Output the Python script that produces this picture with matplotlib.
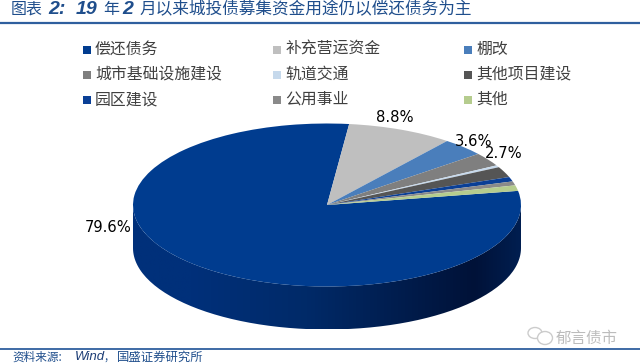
import matplotlib
matplotlib.use('Agg')
import matplotlib.pyplot as plt
import numpy as np
from matplotlib.colors import LinearSegmentedColormap
from matplotlib.path import Path
from matplotlib.patches import Ellipse, PathPatch

plt.rcParams['font.family'] = ['Noto Sans CJK SC', 'DejaVu Sans']

categories = ['偿还债务', '补充营运资金', '棚改', '城市基础设施建设', '轨道交通',
              '其他项目建设', '园区建设', '公用事业', '其他']
values = [79.6, 8.8, 3.6, 2.7, 0.4, 2.1, 0.9, 0.8, 1.1]
colors = ['#003c8f', '#bfbfbf', '#4a7ebb', '#7f7f7f', '#c6d9ec',
          '#555555', '#0a3f96', '#8a8a8a', '#b5cc8e']
shown_labels = {0: (108, 227), 1: (395, 118), 2: (474, 142), 3: (504, 154)}

BLUE = '#2f5f9e'
W, H = 640, 364
cx, cy, rx, ry, depth = 327, 205, 194, 81.5, 43

fig = plt.figure(figsize=(6.4, 3.64), dpi=100)

# pie axes: x -1..1 spans the ellipse, y runs down far enough to hold the side
top, bottom = cy - ry, cy + ry + depth
ax = fig.add_axes([(cx - rx) / W, 1 - bottom / H, 2 * rx / W, (bottom - top) / H])
wedges, _ = ax.pie(values, colors=colors, startangle=10, counterclock=False, radius=1,
                   wedgeprops={'linewidth': 0})
d = depth / ry
ax.set_aspect('auto')
ax.axis('off')

# side of the disc, gradient clipped to the swept ellipse
side_cmap = LinearSegmentedColormap.from_list('side', [
    (0, '#00307a'), (0.15, '#00307a'), (0.45, '#002a68'), (0.88, '#001238'),
    (1, '#001e50')])
im = ax.imshow(np.linspace(0, 1, 256).reshape(1, -1), cmap=side_cmap, aspect='auto',
               extent=(-1, 1, -1 - d, 1), zorder=0)
theta = np.linspace(np.pi, 2 * np.pi, 120)
outline = np.vstack([
    np.column_stack([np.cos(theta), np.sin(theta) - d]),
    np.column_stack([np.cos(theta[::-1]), np.sin(theta[::-1])]),
])
im.set_clip_path(PathPatch(Path(outline), transform=ax.transData))
ax.set_xlim(-1, 1)
ax.set_ylim(-1 - d, 1)

# overlay in pixel coordinates for text, rules and legend
ov = fig.add_axes([0, 0, 1, 1], facecolor='none')
ov.set_xlim(0, W)
ov.set_ylim(H, 0)
ov.axis('off')

ov.plot([0, W], [22.5, 22.5], color=BLUE, lw=1.6, solid_capstyle='butt')
ov.plot([0, W], [349, 349], color=BLUE, lw=1.3, solid_capstyle='butt')

title_color = '#1f4e8c'
latin = {'color': title_color, 'va': 'center', 'weight': 'bold', 'style': 'italic',
         'family': 'Liberation Sans', 'fontsize': 14}
ov.text(11, 9.5, '图表', fontsize=11.5, color=title_color, va='center')
ov.text(48, 9.5, '2:', **latin)
ov.text(76, 9.5, '19', **latin)
ov.text(103, 9.5, '年', fontsize=11.5, color=title_color, va='center')
ov.text(122, 9.5, '2', **latin)
ov.text(139, 9.5, '月以来城投债募集资金用途仍以偿还债务为主', fontsize=12,
        color=title_color, va='center')

for i, (name, color) in enumerate(zip(categories, colors)):
    col, row = i % 3, i // 3
    x = 86.5 + col * 190.5
    y = 49.5 + row * 25
    ov.scatter([x], [y], marker='s', s=33, color=color, linewidths=0)
    ov.text(x + 8.5, y, name, fontsize=11.4, color='#404040', va='center')

for i, (x, y) in shown_labels.items():
    ov.text(x, y, f'{values[i]}%', fontsize=10.6, color='black', ha='center', va='center',
            family='DejaVu Sans')

ov.text(12, 357, '资料来源:', fontsize=8.4, color=title_color, va='center')
ov.text(75, 357, 'Wind', fontsize=9.5, color='#1f3f77', va='center', style='italic',
        family='Liberation Sans')
ov.text(104, 357, ',', fontsize=8.4, color=title_color, va='center')
ov.text(117, 357, '国盛证券研究所', fontsize=8.9, color=title_color, va='center')

# watermark
ov.add_patch(Ellipse((535, 333), 14, 11, fill=False, ec='#cccccc', lw=1))
ov.add_patch(Ellipse((545, 338), 15, 13, fill=True, fc='white', ec='#cccccc', lw=1))
ov.text(556, 338, '郁言债市', fontsize=11.2, color='#bcbcbc', va='center')

fig.savefig('out.png', dpi=100)
plt.close()
